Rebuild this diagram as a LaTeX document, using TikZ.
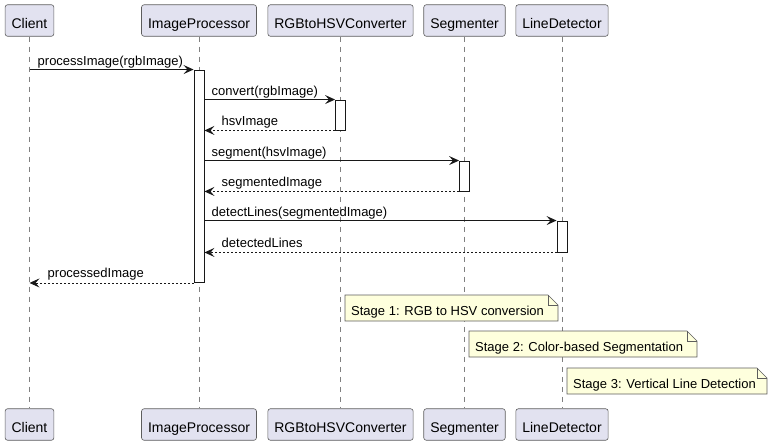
\documentclass[tikz,border=0pt]{standalone}
\usepackage{fontspec}
\setmainfont{Liberation Sans}
\usetikzlibrary{arrows.meta}

\definecolor{partfill}{HTML}{E2E2F0}
\definecolor{partline}{HTML}{181818}
\definecolor{notefill}{HTML}{FEFFDD}

\begin{document}
\begin{tikzpicture}[x=1pt, y=-1pt,
  participant/.style={draw=partline!70, line width=0.6pt, fill=partfill, rounded corners=2.5pt,
    minimum height=31.5pt, inner xsep=6.5pt, inner ysep=0pt, text height=15pt, text depth=0pt,
    font=\fontsize{14}{16}\selectfont},
  lifeline/.style={draw=partline!55, line width=0.6pt, dash pattern=on 5pt off 5pt},
  activation/.style={draw=partline, line width=0.9pt, fill=white, minimum width=10pt, inner sep=0pt},
  msg/.style={draw=partline, line width=0.9pt, -{Stealth[length=10pt, width=9pt, inset=4pt]}},
  reply/.style={msg, dash pattern=on 2pt off 2pt},
  msglabel/.style={anchor=base west, inner sep=0pt, font=\fontsize{13}{15}\selectfont},
  note/.style={draw=partline!70, line width=0.6pt, fill=notefill},
  notetext/.style={anchor=west, inner xsep=6pt, inner ysep=0pt, text height=14pt, text depth=0pt,
    font=\fontsize{13}{15}\selectfont}]
  \useasboundingbox (0,0) rectangle (776,445);

  % participants, top and bottom
  \foreach \name/\x/\label in {client/29.5/Client, improc/199/ImageProcessor,
      rgbhsv/340.5/RGBtoHSVConverter, segm/464.5/Segmenter, linedet/562/LineDetector} {
    \node[participant] (\name) at (\x,20.5) {\label};
    \node[participant] (\name-bot) at (\x,424.5) {\label};
    \draw[lifeline] (\name) -- (\name-bot);
  }

  % activations
  \node[activation, minimum height=212.5pt] (actproc) at (199,176.25) {};
  \node[activation, minimum height=30pt] (actrgb) at (340.5,115) {};
  \node[activation, minimum height=30pt] (actseg) at (464.5,176) {};
  \node[activation, minimum height=31pt] (actline) at (562,236.5) {};

  % messages
  \draw[msg] (client |- actproc.north) -- (actproc.north west);
  \node[msglabel] (lblprocess) at (37.5,65.5) {processImage(rgbImage)};
  \draw[msg] (actproc.east |- actrgb.north) -- (actrgb.north west);
  \node[msglabel] (lblconvert) at (211.5,95.5) {convert(rgbImage)};
  \draw[reply] (actrgb.south west) -- (actproc.east |- actrgb.south);
  \node[msglabel] (lblhsv) at (221.5,125.5) {hsvImage};
  \draw[msg] (actproc.east |- actseg.north) -- (actseg.north west);
  \node[msglabel] (lblsegment) at (211.5,156.5) {segment(hsvImage)};
  \draw[reply] (actseg.south west) -- (actproc.east |- actseg.south);
  \node[msglabel] (lblsegmented) at (221.5,186.5) {segmentedImage};
  \draw[msg] (actproc.east |- actline.north) -- (actline.north west);
  \node[msglabel] (lbldetect) at (211.5,216.5) {detectLines(segmentedImage)};
  \draw[reply] (actline.south west) -- (actproc.east |- actline.south);
  \node[msglabel] (lbldetected) at (221.5,247.5) {detectedLines};
  \draw[reply] (actproc.south west) -- (client |- actproc.south);
  \node[msglabel] (lblprocessed) at (47.5,277.8) {processedImage};

  % notes
  \foreach \name/\xa/\xb/\ya/\txt in {stage1/345/558/295/{Stage 1: RGB to HSV conversion},
      stage2/469/697/331/{Stage 2: Color-based Segmentation},
      stage3/567/767/368/{Stage 3: Vertical Line Detection}} {
    \filldraw[note] (\xa,\ya) -- (\xb-10,\ya) -- (\xb,\ya+10) -- (\xb,\ya+26) -- (\xa,\ya+26) -- cycle;
    \draw[note, fill=none] (\xb-10,\ya) -- (\xb-10,\ya+10) -- (\xb,\ya+10);
    \node[notetext] (\name) at (\xa,\ya+13) {\txt};
  }
\end{tikzpicture}
\end{document}
